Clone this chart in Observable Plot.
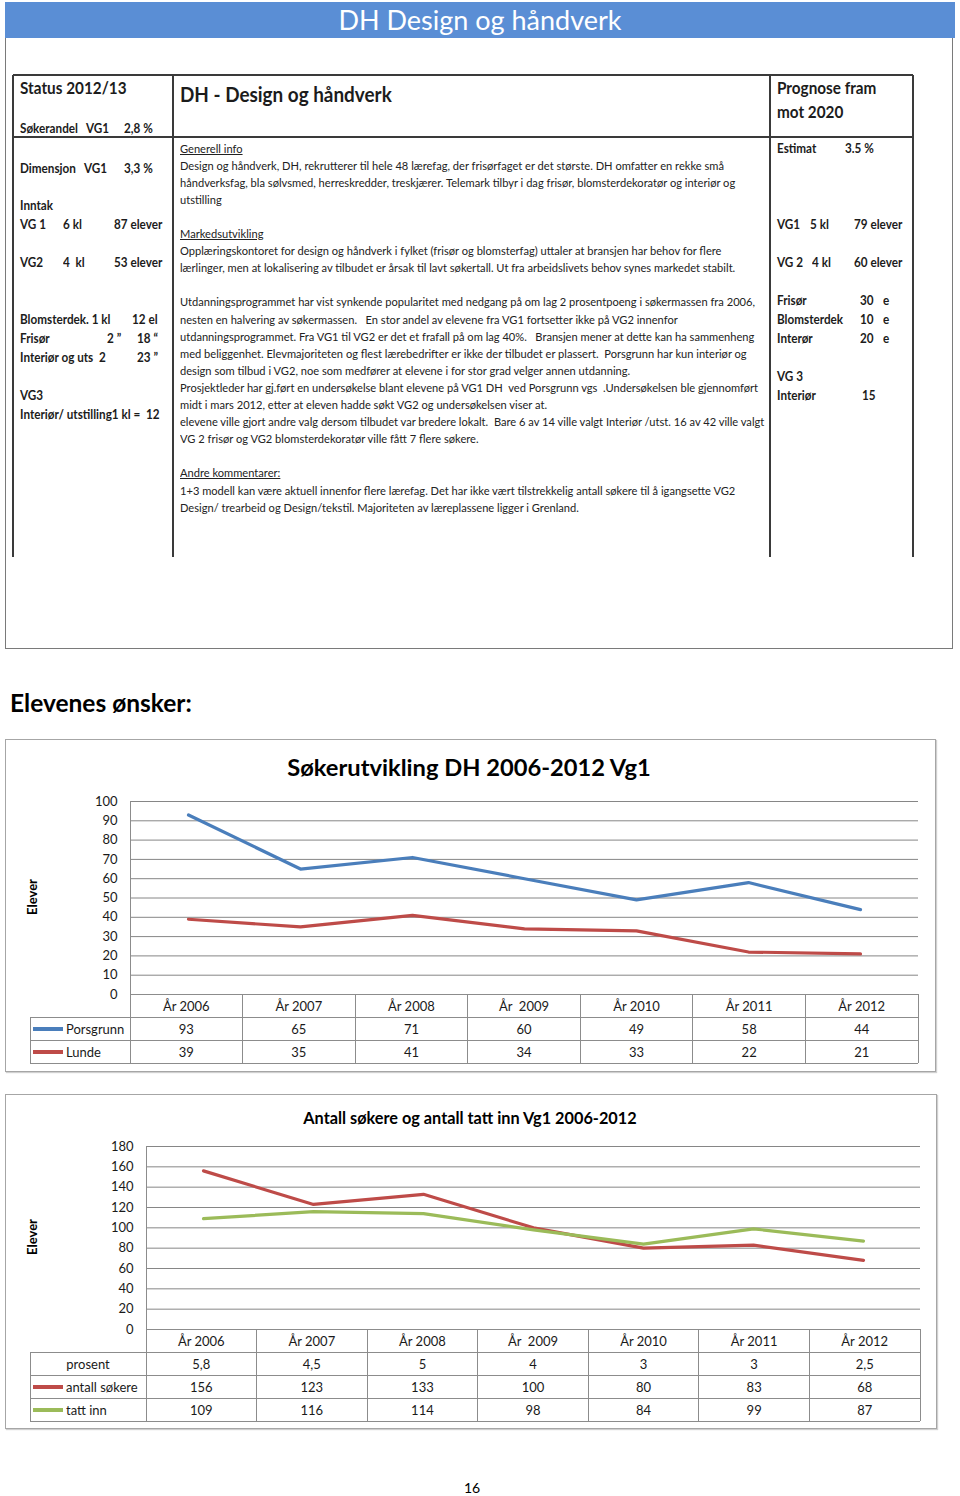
<!DOCTYPE html>
<html><head><meta charset="utf-8">
<script src="https://cdn.jsdelivr.net/npm/d3@7"></script>
<script src="https://cdn.jsdelivr.net/npm/@observablehq/plot@0.6"></script>
<style>
body{margin:0;background:#fff;font-family:Lato,"Open Sans",sans-serif;color:#000;}
#page{position:relative;width:960px;height:1496px;overflow:hidden;background:#fff;}
.a{position:absolute;white-space:pre;}
.ln{position:absolute;background:#8c8c8c;}
.sl{position:absolute;background:#3a3a3a;}
</style></head><body><div id="page"></div>
<script>
// ---------- data ----------
const years = ["År 2006","År 2007","År 2008","År  2009","År 2010","År 2011","År 2012"];
const porsgrunn = [93,65,71,60,49,58,44];
const lunde = [39,35,41,34,33,22,21];
const ticks1 = [0,10,20,30,40,50,60,70,80,90,100];
const prosent = ["5,8","4,5","5","4","3","3","2,5"];
const antallSokere = [156,123,133,100,80,83,68];
const tattInn = [109,116,114,98,84,99,87];
const ticks2 = [0,20,40,60,80,100,120,140,160,180];
const blue = "#4A7EBB", red = "#BE4B48", green = "#9BBB59";

const col2Lines = [
  ["Generell info", true],
  ["Design og håndverk, DH, rekrutterer til hele 48 lærefag, der frisørfaget er det største. DH omfatter en rekke små"],
  ["håndverksfag, bla sølvsmed, herreskredder, treskjærer. Telemark tilbyr i dag frisør, blomsterdekoratør og interiør og"],
  ["utstilling"],
  [""],
  ["Markedsutvikling", true],
  ["Opplæringskontoret for design og håndverk i fylket (frisør og blomsterfag) uttaler at bransjen har behov for flere"],
  ["lærlinger, men at lokalisering av tilbudet er årsak til lavt søkertall. Ut fra arbeidslivets behov synes markedet stabilt."],
  [""],
  ["Utdanningsprogrammet har vist synkende popularitet med nedgang på om lag 2 prosentpoeng i søkermassen fra 2006,"],
  ["nesten en halvering av søkermassen.   En stor andel av elevene fra VG1 fortsetter ikke på VG2 innenfor"],
  ["utdanningsprogrammet. Fra VG1 til VG2 er det et frafall på om lag 40%.   Bransjen mener at dette kan ha sammenheng"],
  ["med beliggenhet. Elevmajoriteten og flest lærebedrifter er ikke der tilbudet er plassert.  Porsgrunn har kun interiør og"],
  ["design som tilbud i VG2, noe som medfører at elevene i for stor grad velger annen utdanning."],
  ["Prosjektleder har gj.ført en undersøkelse blant elevene på VG1 DH  ved Porsgrunn vgs  .Undersøkelsen ble gjennomført"],
  ["midt i mars 2012, etter at eleven hadde søkt VG2 og undersøkelsen viser at."],
  ["elevene ville gjort andre valg dersom tilbudet var bredere lokalt.  Bare 6 av 14 ville valgt Interiør /utst. 16 av 42 ville valgt"],
  ["VG 2 frisør og VG2 blomsterdekoratør ville fått 7 flere søkere."],
  [""],
  ["Andre kommentarer:", true],
  ["1+3 modell kan være aktuell innenfor flere lærefag. Det har ikke vært tilstrekkelig antall søkere til å igangsette VG2"],
  ["Design/ trearbeid og Design/tekstil. Majoriteten av læreplassene ligger i Grenland."]
];

// ---------- helpers ----------
const page = document.getElementById("page");
function el(cls, css, text){
  const d = document.createElement("div");
  d.className = cls;
  Object.assign(d.style, css);
  if (text !== undefined) d.textContent = text;
  page.appendChild(d);
  return d;
}
function txt(x, yc, s, size, extra){
  const lh = Math.round(size*1.4);
  return el("a", Object.assign({left:x+"px", top:(yc-lh/2)+"px", lineHeight:lh+"px", fontSize:size+"px"}, extra||{}), s);
}
function ctxt(xc, yc, s, size, extra){
  const lh = Math.round(size*1.4);
  return el("a", Object.assign({left:(xc-250)+"px", width:"500px", textAlign:"center", top:(yc-lh/2)+"px", lineHeight:lh+"px", fontSize:size+"px"}, extra||{}), s);
}
function hline(cls, x1, x2, y, t){ el(cls, {left:x1+"px", top:(y - (t||1)/2)+"px", width:(x2-x1)+"px", height:(t||1)+"px"}); }
function vline(cls, x, y1, y2, t){ el(cls, {left:(x-(t||1)/2)+"px", top:y1+"px", width:(t||1)+"px", height:(y2-y1)+"px"}); }

// ---------- header ----------
el("a", {left:"5px", top:"2px", width:"950px", height:"36px", background:"#5A8ED5"});
ctxt(480, 20, "DH Design og håndverk", 27, {color:"#fff"});
el("a", {left:"5px", top:"38px", width:"946px", height:"610px", border:"1px solid #7a7a7a", borderTop:"none"});

// ---------- scanned status table ----------
hline("sl", 13, 913, 75, 1.5);
hline("sl", 13, 913, 137, 1.5);
[13,173,770,913].forEach(x => vline("sl", x, 75, 557, 1.5));

const bs = {fontWeight:"700", color:"#1c1c1c", transformOrigin:"left center", transform:"scaleX(0.9)"};
txt(20, 88, "Status 2012/13", 17, bs);
txt(20, 128, "Søkerandel", 13, bs); txt(86, 128, "VG1", 13, bs); txt(124, 128, "2,8 %", 13, bs);
txt(20, 168, "Dimensjon", 13, bs); txt(84, 168, "VG1", 13, bs); txt(124, 168, "3,3 %", 13, bs);
txt(20, 205, "Inntak", 13, bs);
txt(20, 224, "VG 1", 13, bs); txt(63, 224, "6 kl", 13, bs); txt(114, 224, "87 elever", 13, bs);
txt(20, 262, "VG2", 13, bs); txt(63, 262, "4  kl", 13, bs); txt(114, 262, "53 elever", 13, bs);
txt(20, 319, "Blomsterdek. 1 kl", 13, bs); txt(132, 319, "12 el", 13, bs);
txt(20, 338, "Frisør", 13, bs); txt(107, 338, "2 \u201d", 13, bs); txt(137, 338, "18 \u201c", 13, bs);
txt(20, 357, "Interiør og uts  2", 13, bs); txt(137, 357, "23 \u201d", 13, bs);
txt(20, 395, "VG3", 13, bs);
txt(20, 414, "Interiør/ utstilling1 kl =  12", 13, bs);

txt(180, 93, "DH - Design og håndverk", 21, bs);

txt(777, 88, "Prognose fram", 17, bs);
txt(777, 112, "mot 2020", 17, bs);
txt(777, 148, "Estimat", 13, bs); txt(845, 148, "3.5 %", 13, bs);
txt(777, 224, "VG1", 13, bs); txt(810, 224, "5 kl", 13, bs); txt(854, 224, "79 elever", 13, bs);
txt(777, 262, "VG 2", 13, bs); txt(812, 262, "4 kl", 13, bs); txt(854, 262, "60 elever", 13, bs);
txt(777, 300, "Frisør", 13, bs); txt(860, 300, "30", 13, bs); txt(883, 300, "e", 13, bs);
txt(777, 319, "Blomsterdek", 13, bs); txt(860, 319, "10", 13, bs); txt(883, 319, "e", 13, bs);
txt(777, 338, "Interør", 13, bs); txt(860, 338, "20", 13, bs); txt(883, 338, "e", 13, bs);
txt(777, 376, "VG 3", 13, bs);
txt(777, 395, "Interiør", 13, bs); txt(862, 395, "15", 13, bs);

// col2 body
const bodyY0 = 148, bodyStep = 17.1;
const bodyEls = col2Lines.map((l, i) => txt(180, bodyY0 + i*bodyStep, l[0], 12,
  {color:"#222", textDecoration: l[1] ? "underline" : "none", transformOrigin:"left center"}));
const refW = bodyEls[9].getBoundingClientRect().width;
const k = 575 / refW;
bodyEls.forEach(e => e.style.transform = `scaleX(${k})`);

// ---------- section heading ----------
txt(10, 703, "Elevenes ønsker:", 24.5, {fontWeight:"700"});
ctxt(472, 1488, "16", 14);

// ---------- chart builder ----------
function chart(cfg){
  const {box, plotL, plotR, plotT, plotB, labelL, title, titleX, titleY, titleSize, ticks, ymax, series, rows, elevY} = cfg;
  el("a", {left:box[0]+"px", top:box[1]+"px", width:box[2]+"px", height:box[3]+"px",
    border:"1.5px solid #a6a6a6", boxSizing:"border-box", boxShadow:"1px 1px 1px #d0d0d0"});
  ctxt(titleX, titleY, title, titleSize, {fontWeight:"700"});
  el("a", {left:"0px", top:(elevY-10)+"px", width:"64px", height:"20px", lineHeight:"20px", textAlign:"center",
    fontSize:"13px", fontWeight:"700", transform:"rotate(-90deg)"}, "Elever");

  const mL = 100, mR = 10, mT = 10, mB = 2;
  const data = series.flatMap(s => s.values.map((v, i) => ({year: years[i], value: v, name: s.name})));
  const svg = Plot.plot({
    width: (plotR - plotL) + mL + mR,
    height: (plotB - plotT) + mT + mB,
    marginLeft: mL, marginRight: mR, marginTop: mT, marginBottom: mB,
    x: {type: "point", domain: years, padding: 0.5, axis: null},
    y: {domain: [0, ymax], ticks: ticks, tickSize: 0, tickPadding: 13, label: null, tickFormat: d => String(d)},
    color: {domain: series.map(s => s.name), range: series.map(s => s.color)},
    style: {fontFamily: "Lato, sans-serif", fontSize: "13px", color: "#1a1a1a", background: "transparent", overflow: "visible"},
    marks: [
      Plot.ruleY(ticks, {stroke: "#868686", strokeWidth: 1, strokeOpacity: 1}),
      Plot.line(data, {x: "year", y: "value", z: "name", stroke: "name", strokeWidth: 3.2, strokeLinejoin: "round", strokeLinecap: "round"})
    ]
  });
  svg.style.position = "absolute";
  svg.style.left = (plotL - mL) + "px";
  svg.style.top = (plotT - mT) + "px";
  page.appendChild(svg);

  // left axis line
  vline("ln", plotL, plotT, plotB);
  // table
  const rh = 23, cw = (plotR - plotL) / years.length;
  const tBottom = plotB + rh * (rows.length + 1);
  hline("ln", plotL, plotR, plotB);
  for (let r = 1; r <= rows.length + 1; r++) hline("ln", labelL, plotR, plotB + rh*r);
  vline("ln", labelL, plotB + rh, tBottom);
  for (let c = 0; c <= years.length; c++) vline("ln", plotL + c*cw, plotB, tBottom);
  years.forEach((y, c) => ctxt(plotL + (c+0.5)*cw, plotB + rh/2 + 0.5, y, 13, {color:"#1a1a1a"}));
  rows.forEach((row, r) => {
    const yc = plotB + rh*(r+1) + rh/2 + 0.5;
    if (row.color) {
      el("a", {left:(labelL+3)+"px", top:(yc-2)+"px", width:"30px", height:"4px", background:row.color});
      txt(labelL + 36, yc, row.name, 13, {color:"#1a1a1a"});
    } else {
      ctxt((labelL + plotL)/2, yc, row.name, 13, {color:"#1a1a1a"});
    }
    row.values.forEach((v, c) => ctxt(plotL + (c+0.5)*cw, yc, String(v), 13, {color:"#1a1a1a"}));
  });
}

chart({
  box:[5, 739, 931, 333], plotL:130, plotR:918, plotT:801, plotB:994, labelL:30,
  title:"Søkerutvikling DH 2006-2012 Vg1", titleX:469, titleY:767, titleSize:23.7,
  ticks:ticks1, ymax:100, elevY:897,
  series:[{name:"Porsgrunn", values:porsgrunn, color:blue},{name:"Lunde", values:lunde, color:red}],
  rows:[{name:"Porsgrunn", values:porsgrunn, color:blue},{name:"Lunde", values:lunde, color:red}]
});
chart({
  box:[5, 1094, 932, 335], plotL:146, plotR:920, plotT:1146, plotB:1329, labelL:30,
  title:"Antall søkere og antall tatt inn Vg1 2006-2012", titleX:470, titleY:1117, titleSize:16.3,
  ticks:ticks2, ymax:180, elevY:1237,
  series:[{name:"antall søkere", values:antallSokere, color:red},{name:"tatt inn", values:tattInn, color:green}],
  rows:[{name:"prosent", values:prosent},{name:"antall søkere", values:antallSokere, color:red},{name:"tatt inn", values:tattInn, color:green}]
});
</script></body></html>
